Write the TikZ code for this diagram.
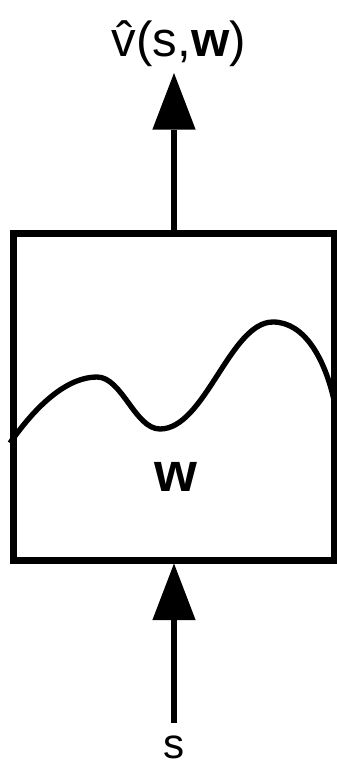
\documentclass[tikz,border=0pt]{standalone}
\usepackage{fontspec}
\setmainfont{Liberation Sans}
\usetikzlibrary{arrows.meta}
\begin{document}
\begin{tikzpicture}[x=0.3mm,y=-0.3mm,
  arr/.style={line width=1.8mm,-{Triangle[length=17mm,width=13mm,line width=0pt]}},
  lbl/.style={font=\fontsize{42}{48}\selectfont}]
  \useasboundingbox (0,0) rectangle (337,764);
  % the approximator
  \node[draw,line width=2.1mm,minimum width=96mm,minimum height=98.1mm,inner sep=0pt] (net) at (174,396.5) {};
  \node[font=\fontsize{47}{52}\selectfont] (wts) at (176,477) {\textbf{w}};
  \draw[line width=1.6mm] (10,443) .. controls (40,400) and (70,377) .. (97,377)
    .. controls (122,377) and (135,429) .. (160,429)
    .. controls (205,429) and (230,322) .. (273,322)
    .. controls (305,322) and (325,360) .. (334,400);
  % input and output
  \node[lbl,anchor=south,inner sep=1.8mm] (vhat) at (179,73) {\^{v}(s,\textbf{w})};
  \node[font=\fontsize{36}{40}\selectfont,anchor=north,inner sep=0pt] (st) at (174,736) {s};
  \draw[arr] (net.north) -- (net.north |- vhat.south);
  \draw[arr,shorten <=3.9mm] (st.north) -- (net.south);
\end{tikzpicture}
\end{document}
